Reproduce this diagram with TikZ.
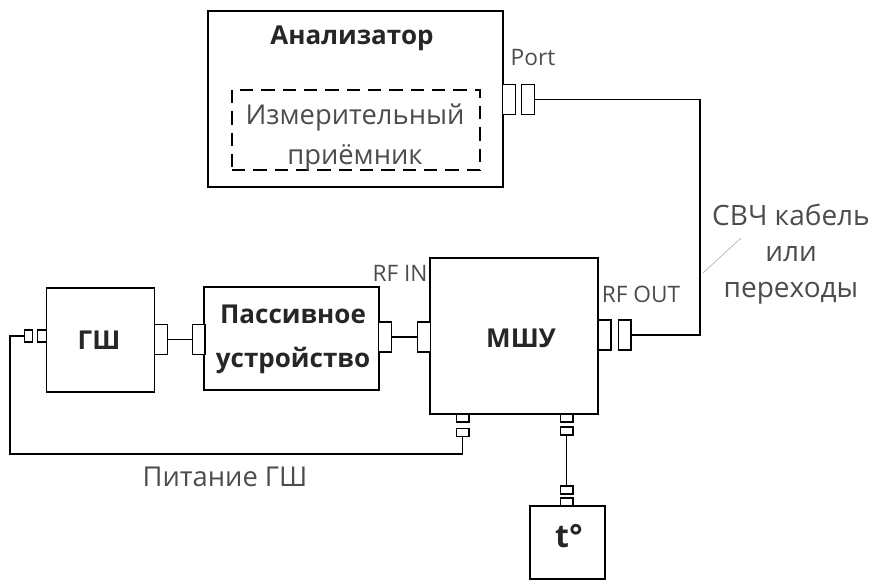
\documentclass[tikz,border=0pt]{standalone}
\usepackage{fontspec}
\setmainfont{Open Sans}
\begin{document}
\begin{tikzpicture}[
    x=0.75pt, y=-0.75pt,
    line width=1.2pt,
    main box/.style={rectangle,draw,fill=white,inner sep=0pt,outer sep=0pt,align=center,text=black!85},
    big stub/.style={main box,line width=1pt,minimum width=9.5pt,minimum height=22.5pt},
    pin h/.style={main box,line width=1pt,minimum width=6.4pt,minimum height=9pt},
    pin v/.style={main box,line width=1pt,minimum width=9.5pt,minimum height=6.2pt},
    title/.style={font=\fontsize{19.5}{33}\selectfont\bfseries,text=black!85,align=center},
    caption/.style={font=\fontsize{20.5}{30}\selectfont,text=black!70,align=center},
    tag/.style={font=\fontsize{17}{20}\selectfont,text=black!70},
    ]
  \useasboundingbox (0,0) rectangle (875,579);

  \node[main box, minimum width=221pt, minimum height=132pt] (an) at (355.5,99) {};
  \node[main box, minimum width=186pt, minimum height=60pt, dash pattern=on 10pt off 6pt, line width=1pt, fill=none] (rcv) at (356,130) {};
  \node[main box, minimum width=81pt, minimum height=78pt] (gsh) at (100.5,340) {};
  \node[main box, minimum width=131pt, minimum height=77pt] (pas) at (291.5,338.5) {};
  \node[main box, minimum width=126pt, minimum height=117pt] (lna) at (514,336) {};
  \node[main box, minimum width=56pt, minimum height=55pt] (tmp) at (567.5,542.5) {};

  \node[title] (antext) at (352,38) {Анализатор};
  \node[caption] (rcvtext) at (355,137) {Измерительный\\приёмник};
  \node[title] (gshtext) at (99,340) {ГШ};
  \node[title] (pastext) at (293,339) {Пассивное\\устройство};
  \node[title] (lnatext) at (521,338) {МШУ};
  \node[title,font=\fontsize{24}{26}\selectfont\bfseries] (tmptext) at (569,536) {t°};

  \node[tag] (porttext) at (533,58) {Port};
  \node[tag] (intext) at (400,273) {RF IN};
  \node[tag] (outtext) at (641,294) {RF OUT};
  \node[caption,font=\fontsize{21}{27}\selectfont] (cabtext) at (791,254) {СВЧ кабель\\или\\переходы};
  \node[caption] (pwrtext) at (225,477) {Питание ГШ};

  % разъёмы
  \node[big stub] (p1) at (509,99.5) {};
  \node[big stub] (p2) at (528,99.5) {};
  \node[big stub] (g1) at (161,339.5) {};
  \node[big stub] (a1) at (198.5,339.5) {};
  \node[big stub] (a2) at (385,337) {};
  \node[big stub] (l1) at (424,337) {};
  \node[big stub] (o1) at (604.5,335) {};
  \node[big stub] (o2) at (624.5,335) {};
  \node[pin h] (s1) at (42,336) {};
  \node[pin h] (s2) at (28.5,336) {};
  \node[pin v] (b1) at (462.5,418) {};
  \node[pin v] (b2) at (462.5,432.5) {};
  \node[pin v] (c1) at (566.5,418) {};
  \node[pin v] (c2) at (566.5,431) {};
  \node[pin v] (t2) at (566.5,490) {};
  \node[pin v] (t1) at (566.5,502) {};

  \coordinate (bend) at (700,99.5);
  \coordinate (ret) at (10,454);

  \draw (p2.east) -- (bend) |- (o2.east);
  \draw (g1.east) -- (a1.west);
  \draw (a2.east) -- (l1.west);
  \draw (c2.south) -- (t2.north);
  \draw (b2.south) |- (ret) |- (s2.west);

  % выноска кабеля
  \coordinate (lead) at (703,273);
  \coordinate (leadend) at (741,238);
  \draw[black!30, line width=0.5pt] (lead) -- (leadend);
\end{tikzpicture}
\end{document}
